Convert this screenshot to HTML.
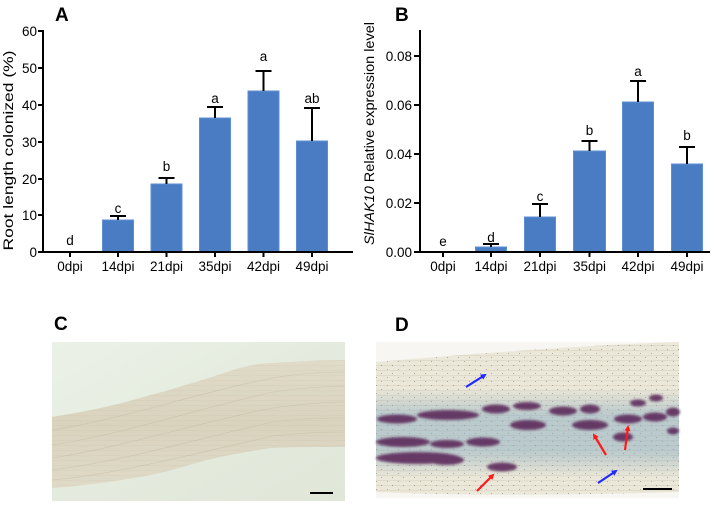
<!DOCTYPE html>
<html>
<head>
<meta charset="utf-8">
<style>
  html,body{margin:0;padding:0;background:#fff;}
  svg{display:block;}
  text{font-family:"Liberation Sans",Arial,sans-serif;fill:#000;}
</style>
</head>
<body>
<svg width="717" height="511" viewBox="0 0 717 511" xmlns="http://www.w3.org/2000/svg">
  <defs>
    <linearGradient id="bgC" x1="0" y1="0" x2="1" y2="1">
      <stop offset="0" stop-color="#ebf1e7"/>
      <stop offset="0.5" stop-color="#e4ebde"/>
      <stop offset="1" stop-color="#e0e7d9"/>
    </linearGradient>
    <linearGradient id="rootC" x1="0" y1="0" x2="0" y2="1">
      <stop offset="0" stop-color="#e0dbc8"/>
      <stop offset="0.5" stop-color="#d9d3be"/>
      <stop offset="1" stop-color="#dfdac7"/>
    </linearGradient>
    <pattern id="dots" width="11" height="8" patternUnits="userSpaceOnUse">
      <rect x="2" y="1" width="1" height="1" fill="#6b6456" opacity="0.45"/>
      <rect x="7" y="5" width="1" height="1" fill="#3f4a55" opacity="0.4"/>
    </pattern>
    <pattern id="streaks" width="40" height="5" patternUnits="userSpaceOnUse">
      <line x1="0" y1="1" x2="40" y2="0.5" stroke="#b8ae96" stroke-width="0.5" opacity="0.5"/>
    </pattern>
    <linearGradient id="blueband" x1="0" y1="0" x2="0" y2="1">
      <stop offset="0" stop-color="#7aa0b6" stop-opacity="0"/>
      <stop offset="0.3" stop-color="#7fa6bd" stop-opacity="0.45"/>
      <stop offset="0.7" stop-color="#7fa6bd" stop-opacity="0.45"/>
      <stop offset="1" stop-color="#7aa0b6" stop-opacity="0"/>
    </linearGradient>
    <filter id="soft" x="-20%" y="-50%" width="140%" height="200%">
      <feGaussianBlur stdDeviation="1.2"/>
    </filter>
    <marker id="arB" markerWidth="6" markerHeight="6" refX="4" refY="3" orient="auto" markerUnits="userSpaceOnUse">
      <path d="M0,0 L6,3 L0,6 Z" fill="#1f2bff"/>
    </marker>
    <marker id="arR" markerWidth="6" markerHeight="6" refX="4" refY="3" orient="auto" markerUnits="userSpaceOnUse">
      <path d="M0,0 L6,3 L0,6 Z" fill="#ff1a1a"/>
    </marker>
  </defs>

  <!-- ================= Panel A ================= -->
  <text x="55" y="21" font-size="19" font-weight="bold">A</text>
  <text transform="translate(13,150.5) rotate(-90)" text-anchor="middle" font-size="13.5" textLength="200" lengthAdjust="spacingAndGlyphs">Root length colonized (%)</text>
  <g font-size="13.5" text-anchor="end">
    <text x="37" y="36">60</text>
    <text x="37" y="73">50</text>
    <text x="37" y="110">40</text>
    <text x="37" y="147">30</text>
    <text x="37" y="184">20</text>
    <text x="37" y="220">10</text>
    <text x="37" y="257">0</text>
  </g>
  <g stroke="#000" stroke-width="2">
    <line x1="38" y1="31" x2="43" y2="31"/>
    <line x1="38" y1="68" x2="43" y2="68"/>
    <line x1="38" y1="105" x2="43" y2="105"/>
    <line x1="38" y1="142" x2="43" y2="142"/>
    <line x1="38" y1="179" x2="43" y2="179"/>
    <line x1="38" y1="215" x2="43" y2="215"/>
    <line x1="38" y1="252" x2="43" y2="252"/>
  </g>
  <g fill="#4a7cc3" stroke="#5c8fd2" stroke-width="1">
    <rect x="102.5" y="220" width="31" height="32"/>
    <rect x="151" y="184" width="31" height="68"/>
    <rect x="199.5" y="118" width="31" height="134"/>
    <rect x="248" y="91" width="31" height="161"/>
    <rect x="296.5" y="141" width="31" height="111"/>
  </g>
  <g stroke="#000" stroke-width="2">
    <line x1="118" y1="220" x2="118" y2="216"/><line x1="110" y1="216" x2="126" y2="216"/>
    <line x1="166.5" y1="184" x2="166.5" y2="178"/><line x1="158.5" y1="178" x2="174.5" y2="178"/>
    <line x1="215" y1="118" x2="215" y2="107"/><line x1="207" y1="107" x2="223" y2="107"/>
    <line x1="263.5" y1="91" x2="263.5" y2="71"/><line x1="255.5" y1="71" x2="271.5" y2="71"/>
    <line x1="312" y1="141" x2="312" y2="108"/><line x1="304" y1="108" x2="320" y2="108"/>
  </g>
  <g stroke="#000" stroke-width="2">
    <line x1="43" y1="30" x2="43" y2="253"/>
    <line x1="42" y1="252" x2="353" y2="252"/>
    <line x1="70" y1="252" x2="70" y2="257"/>
    <line x1="118" y1="252" x2="118" y2="257"/>
    <line x1="166.5" y1="252" x2="166.5" y2="257"/>
    <line x1="215" y1="252" x2="215" y2="257"/>
    <line x1="263.5" y1="252" x2="263.5" y2="257"/>
    <line x1="312" y1="252" x2="312" y2="257"/>
  </g>
  <g font-size="13.5" text-anchor="middle">
    <text x="70" y="271">0dpi</text>
    <text x="118" y="271">14dpi</text>
    <text x="166.5" y="271">21dpi</text>
    <text x="215" y="271">35dpi</text>
    <text x="263.5" y="271">42dpi</text>
    <text x="312" y="271">49dpi</text>
  </g>
  <g font-size="13.5" text-anchor="middle">
    <text x="70" y="245">d</text>
    <text x="118" y="213">c</text>
    <text x="166.5" y="171">b</text>
    <text x="215" y="103">a</text>
    <text x="263.5" y="61">a</text>
    <text x="312" y="103">ab</text>
  </g>

  <!-- ================= Panel B ================= -->
  <text x="395" y="21" font-size="19" font-weight="bold">B</text>
  <text transform="translate(374,133.5) rotate(-90)" text-anchor="middle" font-size="13.5" textLength="223" lengthAdjust="spacingAndGlyphs"><tspan font-style="italic">SlHAK10</tspan> Relative expression level</text>
  <g font-size="13.5" text-anchor="end">
    <text x="412" y="61">0.08</text>
    <text x="412" y="110">0.06</text>
    <text x="412" y="159">0.04</text>
    <text x="412" y="208">0.02</text>
    <text x="412" y="257">0.00</text>
  </g>
  <g stroke="#000" stroke-width="2">
    <line x1="414" y1="56" x2="420" y2="56"/>
    <line x1="414" y1="105" x2="420" y2="105"/>
    <line x1="414" y1="154" x2="420" y2="154"/>
    <line x1="414" y1="203" x2="420" y2="203"/>
    <line x1="414" y1="252" x2="420" y2="252"/>
  </g>
  <g fill="#4a7cc3" stroke="#5c8fd2" stroke-width="1">
    <rect x="475.5" y="247" width="31" height="5"/>
    <rect x="524.5" y="217" width="31" height="35"/>
    <rect x="573.5" y="151" width="32" height="101"/>
    <rect x="622.5" y="102" width="31" height="150"/>
    <rect x="671.5" y="164" width="31" height="88"/>
  </g>
  <g stroke="#000" stroke-width="2">
    <line x1="491" y1="247" x2="491" y2="244"/><line x1="483" y1="244" x2="499" y2="244"/>
    <line x1="540" y1="217" x2="540" y2="204"/><line x1="532" y1="204" x2="548" y2="204"/>
    <line x1="589.5" y1="151" x2="589.5" y2="141"/><line x1="581.5" y1="141" x2="597.5" y2="141"/>
    <line x1="638" y1="102" x2="638" y2="81"/><line x1="630" y1="81" x2="646" y2="81"/>
    <line x1="687" y1="164" x2="687" y2="147"/><line x1="679" y1="147" x2="695" y2="147"/>
  </g>
  <g stroke="#000" stroke-width="2">
    <line x1="420" y1="30" x2="420" y2="253"/>
    <line x1="419" y1="252" x2="710" y2="252"/>
    <line x1="443" y1="252" x2="443" y2="257"/>
    <line x1="491" y1="252" x2="491" y2="257"/>
    <line x1="540" y1="252" x2="540" y2="257"/>
    <line x1="589.5" y1="252" x2="589.5" y2="257"/>
    <line x1="638" y1="252" x2="638" y2="257"/>
    <line x1="687" y1="252" x2="687" y2="257"/>
  </g>
  <g font-size="13.5" text-anchor="middle">
    <text x="443" y="271">0dpi</text>
    <text x="491" y="271">14dpi</text>
    <text x="540" y="271">21dpi</text>
    <text x="589.5" y="271">35dpi</text>
    <text x="638" y="271">42dpi</text>
    <text x="687" y="271">49dpi</text>
  </g>
  <g font-size="13.5" text-anchor="middle">
    <text x="443" y="246">e</text>
    <text x="491" y="242">d</text>
    <text x="540" y="201">c</text>
    <text x="589.5" y="135">b</text>
    <text x="638" y="76">a</text>
    <text x="687" y="140">b</text>
  </g>

  <!-- ================= Panel C ================= -->
  <text x="54" y="330" font-size="19" font-weight="bold">C</text>
  <rect x="52" y="342" width="293" height="159" fill="url(#bgC)"/>
  <path d="M52,417 C95,410 120,404 140,398 C170,390 200,381 227,372 C245,366 260,363 273,363 C300,361 325,360 345,360 L345,447 C320,447 295,447 273,448 C250,451 228,455 207,460 C185,466 165,473 140,477 C110,482 80,486 52,488 Z" fill="url(#rootC)"/>
  <path d="M52,417 C95,410 120,404 140,398 C170,390 200,381 227,372 C245,366 260,363 273,363 C300,361 325,360 345,360 L345,447 C320,447 295,447 273,448 C250,451 228,455 207,460 C185,466 165,473 140,477 C110,482 80,486 52,488 Z" fill="url(#streaks)" opacity="0.5"/>
  <g fill="none" stroke="#b4a98e" stroke-width="0.6" opacity="0.4">
    <path d="M52,430 C120,420 200,392 273,378 C300,373 330,372 345,372"/>
    <path d="M52,445 C120,435 200,408 273,392 C300,388 330,386 345,386"/>
    <path d="M52,458 C120,448 200,422 273,408 C300,404 330,402 345,402"/>
    <path d="M52,470 C120,462 200,438 273,422 C300,418 330,418 345,418"/>
    <path d="M52,480 C120,474 200,452 273,436 C300,433 330,432 345,432"/>
  </g>
  <line x1="310" y1="493" x2="333" y2="493" stroke="#000" stroke-width="2"/>

  <!-- ================= Panel D ================= -->
  <text x="395" y="331" font-size="19" font-weight="bold">D</text>
  <rect x="376" y="342" width="303" height="156" fill="#f7f6f2"/>
  <path d="M376,362 C450,356 560,346 679,342 L679,492 C600,494 500,497 376,492 Z" fill="#ece8d9"/>
  <path d="M376,362 C450,356 560,346 679,342 L679,492 C600,494 500,497 376,492 Z" fill="url(#streaks)"/>
  <path d="M376,362 C450,356 560,346 679,342 L679,492 C600,494 500,497 376,492 Z" fill="url(#dots)"/>
  <rect x="376" y="388" width="303" height="90" fill="url(#blueband)"/>
  <g fill="#5a2858" opacity="0.88" filter="url(#soft)">
    <ellipse cx="397" cy="419" rx="20" ry="4.5"/>
    <ellipse cx="448" cy="415" rx="31" ry="5"/>
    <ellipse cx="496" cy="409" rx="14" ry="4.5"/>
    <ellipse cx="527" cy="406" rx="14" ry="4"/>
    <ellipse cx="528" cy="425" rx="18" ry="5"/>
    <ellipse cx="563" cy="411" rx="14" ry="4.5"/>
    <ellipse cx="590" cy="409" rx="10" ry="4.5"/>
    <ellipse cx="590" cy="425" rx="18" ry="5"/>
    <ellipse cx="628" cy="419" rx="14" ry="4.5"/>
    <ellipse cx="655" cy="417" rx="12" ry="4.5"/>
    <ellipse cx="673" cy="412" rx="7" ry="4.5"/>
    <ellipse cx="656" cy="398" rx="7" ry="3.5"/>
    <ellipse cx="638" cy="403" rx="8" ry="3.5"/>
    <ellipse cx="623" cy="437" rx="10" ry="4.5"/>
    <ellipse cx="673" cy="431" rx="6" ry="3.5"/>
    <ellipse cx="403" cy="442" rx="27" ry="5"/>
    <ellipse cx="447" cy="444" rx="17" ry="4"/>
    <ellipse cx="483" cy="442" rx="17" ry="4.5"/>
    <ellipse cx="502" cy="467" rx="15" ry="4.5"/>
    <ellipse cx="418" cy="458" rx="42" ry="6"/>
    <ellipse cx="446" cy="460" rx="18" ry="5"/>
  </g>
  <g stroke-width="2.2" fill="none">
    <line x1="466" y1="387" x2="485" y2="375" stroke="#1f2bff" marker-end="url(#arB)"/>
    <line x1="598" y1="483" x2="616" y2="471" stroke="#1f2bff" marker-end="url(#arB)"/>
    <line x1="477" y1="491" x2="493" y2="475" stroke="#ff1a1a" marker-end="url(#arR)"/>
    <line x1="606" y1="455" x2="594" y2="435" stroke="#ff1a1a" marker-end="url(#arR)"/>
    <line x1="625" y1="450" x2="628" y2="427" stroke="#ff1a1a" marker-end="url(#arR)"/>
  </g>
  <line x1="643" y1="489" x2="672" y2="489" stroke="#000" stroke-width="2"/>
</svg>
</body>
</html>
